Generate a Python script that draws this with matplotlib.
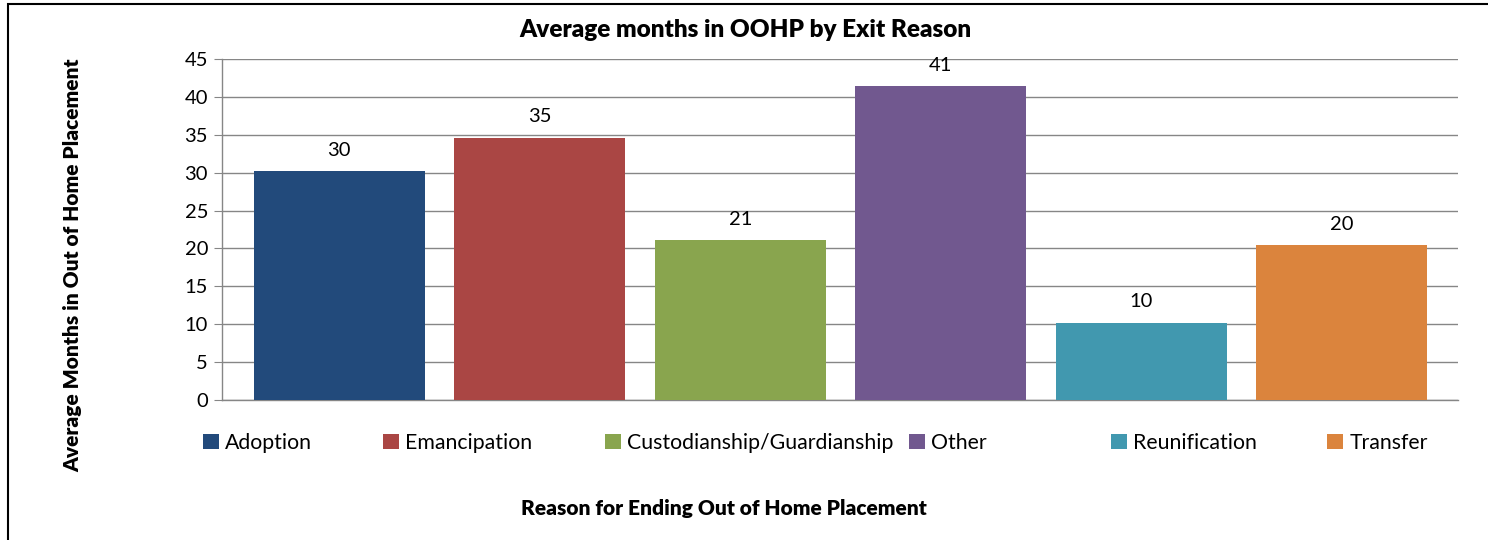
import matplotlib
matplotlib.use("Agg")
import matplotlib.pyplot as plt
from matplotlib.patches import Rectangle

plt.rcParams["font.family"] = ["Lato", "DejaVu Sans"]

reasons = ["Adoption", "Emancipation", "Custodianship/Guardianship", "Other",
           "Reunification", "Transfer"]
months = [30.2, 34.6, 21.1, 41.4, 10.2, 20.4]
colors = ["#224A7B", "#AA4644", "#89A54E", "#71588F", "#4198AF", "#DB843D"]

W, H = 1488, 540
fig = plt.figure(figsize=(W / 100, H / 100), dpi=100)
ax = fig.add_axes([222 / W, 1 - 400 / H, (1458 - 222) / W, (400 - 59) / H])

# outer chart frame (only left/top visible in the reference)
fig.patches.append(Rectangle((8 / W, -0.1), 1.2, 1.1 - 4 / H, transform=fig.transFigure,
                             fill=False, ec="black", lw=1.5))

x = range(len(reasons))
bars = ax.bar(x, months, width=0.853, color=colors, zorder=3)
for xi, v in zip(x, months):
    ax.annotate(f"{v:.0f}", (xi, v), xytext=(0, 9), textcoords="offset points",
                ha="center", va="bottom", fontsize=14.5)

ax.set_xlim(-0.585, len(reasons) - 1 + 0.58)
ax.set_ylim(0, 45)
ax.set_yticks(range(0, 46, 5))
ax.set_xticks([])
ax.tick_params(axis="y", labelsize=14.5, length=6, color="#868686", pad=4)
ax.grid(axis="y", color="#868686", lw=1, zorder=0)
for s in ["top", "right"]:
    ax.spines[s].set_visible(False)
for s in ["left", "bottom"]:
    ax.spines[s].set_color("#868686")
    ax.spines[s].set_linewidth(1)

fig.text(745 / W, 1 - 30 / H, "Average months in OOHP by Exit Reason",
         ha="center", va="center", fontsize=17.5, fontweight="heavy")
fig.text(73 / W, 1 - 265 / H, "Average Months in Out of Home Placement",
         rotation=90, ha="center", va="center", fontsize=15, fontweight="heavy")
fig.text(724 / W, 1 - 509 / H, "Reason for Ending Out of Home Placement",
         ha="center", va="center", fontsize=15, fontweight="heavy")

# legend entries placed one by one, like the spread-out Excel legend
leg_x = [203, 383, 605, 909, 1111, 1327]
for b, name, lx in zip(bars, reasons, leg_x):
    lg = fig.legend([b], [name], loc="center left", bbox_to_anchor=(lx / W, 1 - 443 / H),
                    frameon=False, fontsize=15.3, handlelength=0.75, handleheight=0.75,
                    handletextpad=0.3, borderaxespad=0, borderpad=0)

fig.savefig("out.png", dpi=100)
